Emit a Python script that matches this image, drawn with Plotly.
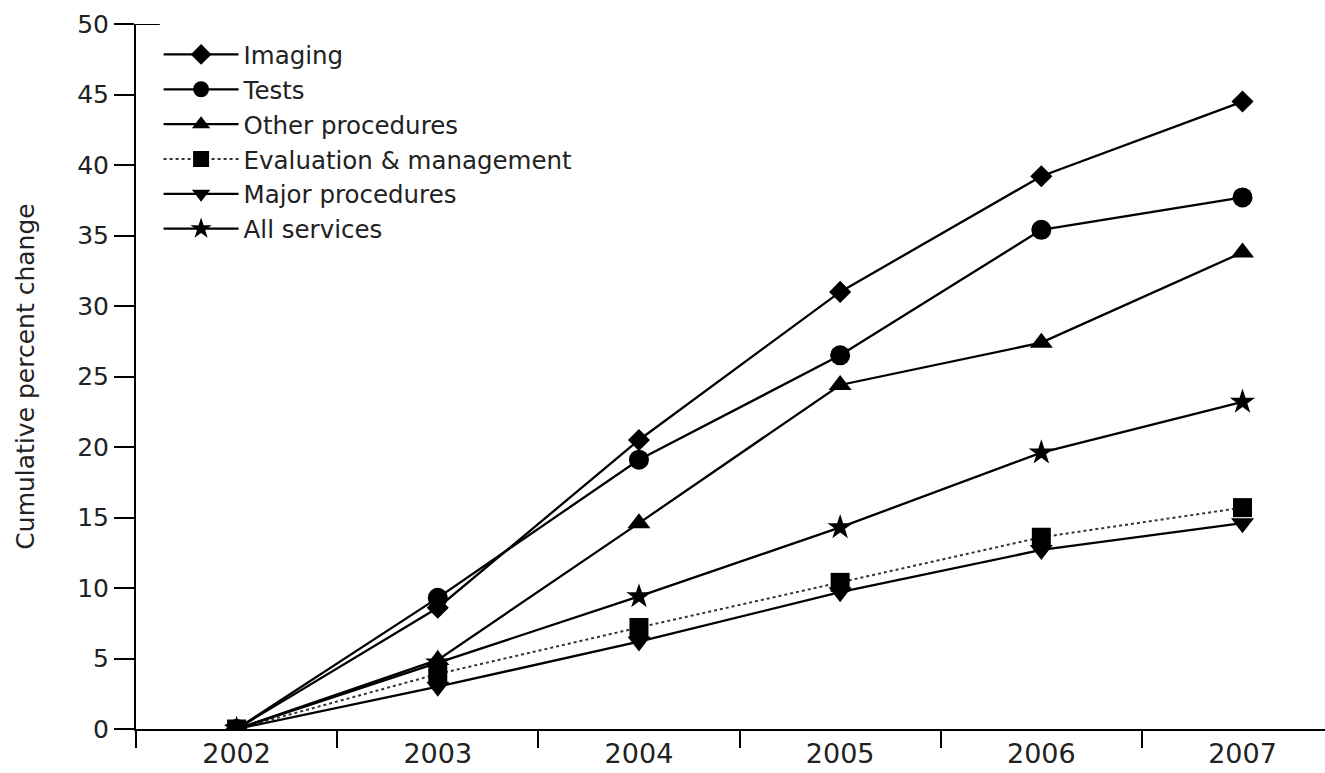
import plotly.graph_objects as go

years = ["2002", "2003", "2004", "2005", "2006", "2007"]
imaging = [0, 8.6, 20.5, 31.0, 39.2, 44.5]
tests = [0, 9.3, 19.1, 26.5, 35.4, 37.7]
other_proc = [0, 4.9, 14.6, 24.4, 27.4, 33.8]
eval_mgmt = [0, 3.9, 7.2, 10.4, 13.6, 15.7]
major_proc = [0, 3.0, 6.2, 9.7, 12.7, 14.6]
all_services = [0, 4.7, 9.4, 14.3, 19.6, 23.2]

series = [
    ("Imaging", imaging, "diamond", 17, "solid", "black", 2.3),
    ("Tests", tests, "circle", 20, "solid", "black", 2.3),
    ("Other procedures", other_proc, "triangle-up", 20, "solid", "black", 2.3),
    ("Evaluation & management", eval_mgmt, "square", 19, "dot", "#333333", 2),
    ("Major procedures", major_proc, "triangle-down", 20, "solid", "black", 2.3),
    ("All services", all_services, "star", 19, "solid", "black", 2.3),
]

fig = go.Figure()
for name, vals, sym, size, dash, lc, lw in series:
    fig.add_trace(go.Scatter(
        x=years, y=vals, name=name, mode="lines+markers",
        line=dict(color=lc, width=lw, dash=dash),
        marker=dict(symbol=sym, size=size, color="black", line=dict(width=0)),
    ))

font = "DejaVu Sans"
fig.update_layout(
    width=1325, height=773,
    margin=dict(l=136, r=0, t=24, b=44),
    paper_bgcolor="white", plot_bgcolor="white",
    font=dict(family=font, color="#222222", size=25),
    showlegend=True,
    legend=dict(
        x=0.019, y=1 - 8 / 705, xanchor="left", yanchor="top",
        font=dict(family=font, size=24.5, color="#222222"),
        itemwidth=75, bgcolor="rgba(0,0,0,0)", tracegroupgap=0,
    ),
    xaxis=dict(
        type="category", range=[-0.5, 5.41], tickson="boundaries",
        ticks="outside", ticklen=17, tickwidth=2, tickcolor="black",
        showline=True, linecolor="black", linewidth=2,
        showgrid=False, zeroline=False,
        tickfont=dict(family=font, size=27, color="#222222"),
    ),
    yaxis=dict(
        range=[0, 50], dtick=5, tick0=0,
        ticks="outside", ticklen=20, tickwidth=2, tickcolor="black",
        showline=True, linecolor="black", linewidth=2,
        showgrid=False, zeroline=False,
        tickfont=dict(family=font, size=25, color="#222222"),
        title=dict(text="Cumulative percent change", standoff=35,
                   font=dict(family=font, size=25, color="#222222")),
    ),
    shapes=[dict(type="line", xref="paper", yref="y", x0=0, x1=0.02,
                 y0=50, y1=50, line=dict(color="black", width=2))],
)

fig.write_html("out.html")
